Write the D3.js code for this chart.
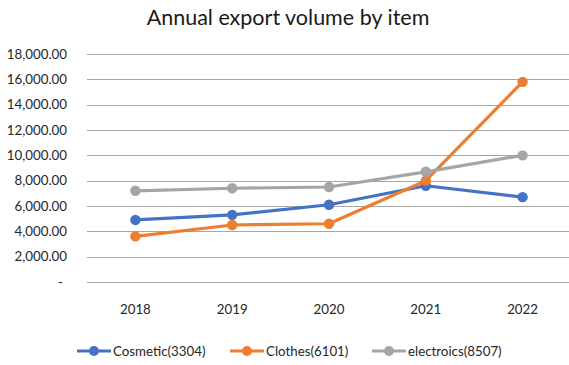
<!DOCTYPE html>
<html>
<head>
<meta charset="utf-8">
<title>Annual export volume by item</title>
<style>
  body { margin: 0; background: #fff; }
  svg { display: block; font-family: Lato, "Open Sans", sans-serif; }
</style>
</head>
<body>
<main></main>
<script src="https://d3js.org/d3.v7.min.js"></script>
<script>
const years = ["2018", "2019", "2020", "2021", "2022"];
const seriesNames = ["Cosmetic(3304)", "Clothes(6101)", "electroics(8507)"];
const cosmetic = [4900, 5300, 6100, 7600, 6700];
const clothes = [3600, 4500, 4600, 8000, 15800];
const electronics = [7200, 7400, 7500, 8700, 10000];
const yTicks = [0, 2000, 4000, 6000, 8000, 10000, 12000, 14000, 16000, 18000];
const colors = ["#4472C4", "#ED7D31", "#A5A5A5"];

const series = [cosmetic, clothes, electronics].map((v, i) => ({ name: seriesNames[i], values: v, color: colors[i] }));

const width = 569, height = 365;
const margin = { top: 54, right: -2, bottom: 83, left: 87 };

const svg = d3.select("main").append("svg")
  .attr("width", width)
  .attr("height", height);

const x = d3.scalePoint()
  .domain(years)
  .range([margin.left, width - margin.right])
  .padding(0.5);

const y = d3.scaleLinear()
  .domain([0, 18000])
  .range([height - margin.bottom, margin.top]);

const fmt = d3.format(",.2f");

// gridlines
svg.append("g")
  .selectAll("line")
  .data(yTicks)
  .join("line")
    .attr("x1", margin.left)
    .attr("x2", width - margin.right)
    .attr("y1", d => Math.round(y(d)) + 0.5)
    .attr("y2", d => Math.round(y(d)) + 0.5)
    .attr("stroke", "#a6a6a6")
    .attr("stroke-width", 1.2);

// y labels
svg.append("g")
  .selectAll("text")
  .data(yTicks)
  .join("text")
    .attr("x", d => d === 0 ? 63 : 67)
    .attr("y", d => y(d))
    .attr("dy", "0.35em")
    .attr("text-anchor", "end")
    .attr("font-size", 13.3)
    .attr("fill", "#262626")
    .text(d => d === 0 ? "-" : fmt(d));

// x labels
svg.append("g")
  .selectAll("text")
  .data(years)
  .join("text")
    .attr("x", d => x(d))
    .attr("y", 314)
    .attr("text-anchor", "middle")
    .attr("font-size", 13.3)
    .attr("fill", "#262626")
    .text(d => d);

const line = d3.line()
  .x((d, i) => x(years[i]))
  .y(d => y(d));

const g = svg.append("g")
  .selectAll("g")
  .data(series)
  .join("g");

g.append("path")
  .attr("d", d => line(d.values))
  .attr("fill", "none")
  .attr("stroke", d => d.color)
  .attr("stroke-width", 3.2)
  .attr("stroke-linejoin", "round");

g.selectAll("circle")
  .data(d => d.values.map(v => ({ v, color: d.color })))
  .join("circle")
    .attr("cx", (d, i) => x(years[i]))
    .attr("cy", d => y(d.v))
    .attr("r", 5.2)
    .attr("fill", d => d.color);

// title
svg.append("text")
  .attr("x", 288)
  .attr("y", 25)
  .attr("text-anchor", "middle")
  .attr("font-size", 21.5)
  .attr("fill", "#1a1a1a")
  .text("Annual export volume by item");

// legend
const legendX = [77, 230, 372];
const leg = svg.append("g")
  .selectAll("g")
  .data(series)
  .join("g")
    .attr("transform", (d, i) => `translate(${legendX[i]},351)`);

leg.append("line")
  .attr("x1", 0).attr("x2", 34)
  .attr("stroke", d => d.color)
  .attr("stroke-width", 3.2);

leg.append("circle")
  .attr("cx", 17)
  .attr("r", 5)
  .attr("fill", d => d.color);

leg.append("text")
  .attr("x", 36)
  .attr("dy", "0.35em")
  .attr("font-size", 13.3)
  .attr("fill", "#262626")
  .text(d => d.name);
</script>
</body>
</html>
